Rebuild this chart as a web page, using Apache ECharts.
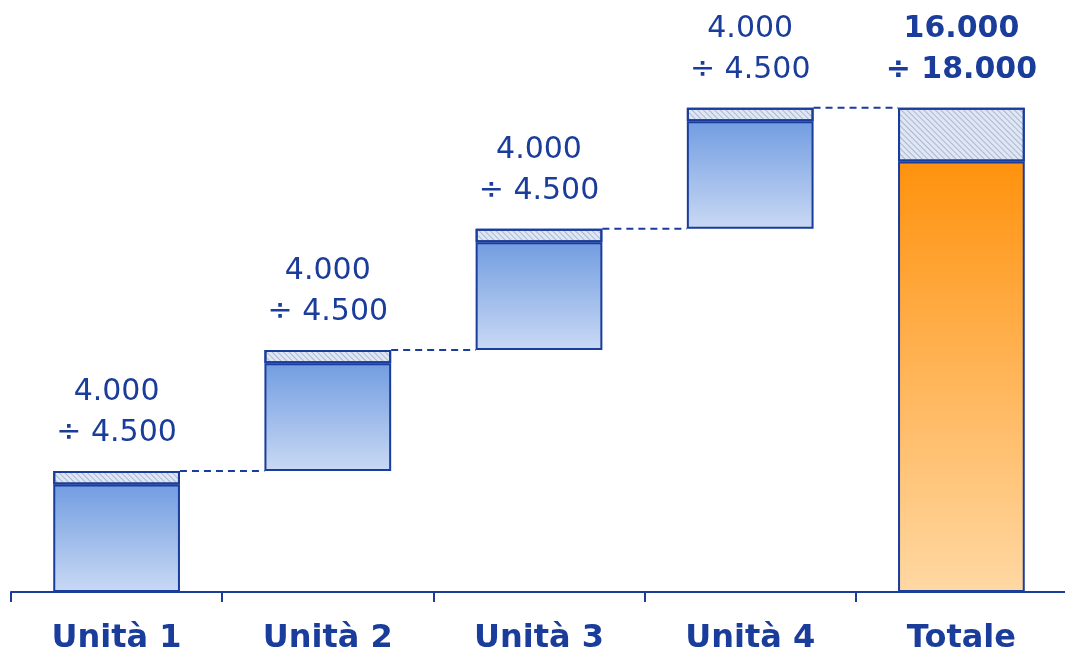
<!DOCTYPE html>
<html>
<head>
<meta charset="utf-8">
<script src="https://cdn.jsdelivr.net/npm/echarts@6/dist/echarts.min.js"></script>
<style>html,body{margin:0;padding:0;background:#fff}#c{width:1065px;height:652px}</style>
</head>
<body>
<div id="c"></div>
<script>
var categories = ['Unità 1', 'Unità 2', 'Unità 3', 'Unità 4', 'Totale'];
var baseValues = [0, 4500, 9000, 13500, 0];
var minValues = [4000, 4000, 4000, 4000, 16000];
var maxValues = [4500, 4500, 4500, 4500, 18000];

var BLUE = '#1a3c9b';
function fmt(v) {
  var s = String(Math.round(v));
  return s.replace(/\B(?=(\d{3})+(?!\d))/g, '.');
}
var rangeValues = maxValues.map(function (m, i) { return m - minValues[i]; });
var lastIdx = categories.length - 1;

var blueGrad = new echarts.graphic.LinearGradient(0, 0, 0, 1, [
  { offset: 0, color: '#729de1' }, { offset: 1, color: '#c9d9f4' }]);
var orangeGrad = new echarts.graphic.LinearGradient(0, 0, 0, 1, [
  { offset: 0, color: '#ff920e' }, { offset: 1, color: '#ffd8a3' }]);

var solidData = minValues.map(function (v, i) {
  return { value: v, itemStyle: { color: i === lastIdx ? orangeGrad : blueGrad } };
});
var rangeData = rangeValues.map(function (v, i) {
  return {
    value: v,
    label: {
      formatter: fmt(minValues[i]) + '\n÷ ' + fmt(maxValues[i]),
      fontWeight: i === lastIdx ? 'bold' : 'normal'
    }
  };
});

var series = [
  { type: 'bar', stack: 's', data: baseValues, barWidth: '60%',
    itemStyle: { color: 'transparent' }, silent: true },
  { type: 'bar', stack: 's', data: solidData,
    itemStyle: { borderColor: BLUE, borderWidth: 2 } },
  { type: 'bar', stack: 's', data: rangeData,
    itemStyle: { color: '#dfe7f5', borderColor: BLUE, borderWidth: 2,
      decal: { symbol: 'rect', symbolSize: 1, dashArrayX: [1, 0], dashArrayY: [1, 3],
        rotation: Math.PI / 4, color: 'rgba(110,125,160,0.45)' } },
    label: { show: true, position: 'top', distance: 17, color: BLUE,
      fontFamily: 'DejaVu Sans', fontSize: 30, lineHeight: 41 } }
];

for (var i = 0; i < lastIdx; i++) {
  var level = baseValues[i] + maxValues[i];
  series.push({
    type: 'line', xAxisIndex: 1, yAxisIndex: 0, symbol: 'none', silent: true,
    lineStyle: { color: BLUE, width: 2, type: [7, 5] },
    data: [[i + 0.3, level], [i + 0.7, level]], z: 1
  });
}

var chart = echarts.init(document.getElementById('c'));
chart.setOption({
  animation: false,
  grid: { left: 11, width: 1056, top: 54, bottom: 60, outerBoundsMode: 'none', containLabel: false },
  xAxis: [{
    type: 'category', data: categories,
    axisLine: { lineStyle: { color: BLUE, width: 2 } },
    axisTick: { show: true, length: 10, lineStyle: { color: BLUE, width: 2 } },
    axisLabel: { color: BLUE, fontFamily: 'DejaVu Sans', fontWeight: 'bold', fontSize: 32, margin: 31, interval: 0 }
  }, {
    type: 'value', min: -0.5, max: 4.5, show: false
  }],
  yAxis: { type: 'value', min: 0, max: 20000, show: false },
  series: series
});
</script>
</body>
</html>
